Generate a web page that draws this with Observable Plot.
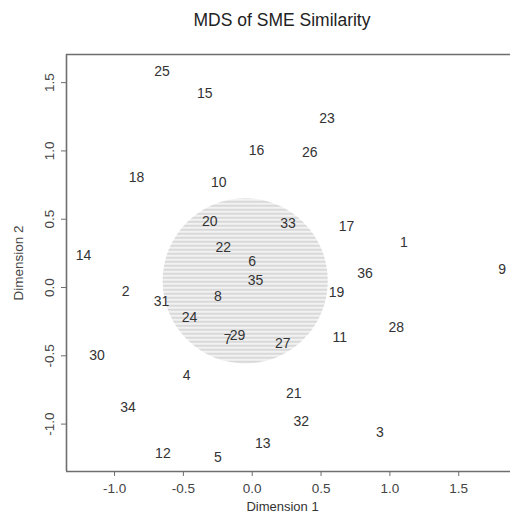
<!DOCTYPE html>
<html><head><meta charset="utf-8">
<script src="https://cdn.jsdelivr.net/npm/d3@7"></script>
<script src="https://cdn.jsdelivr.net/npm/@observablehq/plot@0.6"></script>
<style>
html,body{margin:0;padding:0;background:#fff;width:510px;height:519px;overflow:hidden;}
#title{height:40px;line-height:40px;padding-left:54px;width:456px;text-align:center;font-family:"Liberation Sans",Arial,sans-serif;font-size:17.5px;color:#222;}
#chart svg{display:block;}
</style></head><body>
<div id="title">MDS of SME Similarity</div>
<div id="chart"></div>
<script>
// Point labels (SME ids) and their MDS coordinates
const ids  = [1,2,3,4,5,6,7,8,9,10,11,12,13,14,15,16,17,18,19,20,21,22,23,24,25,26,27,28,29,30,31,32,33,34,35,36];
const dim1 = [1.101,-0.920,0.927,-0.477,-0.250,0.000,-0.179,-0.250,1.816,-0.243,0.636,-0.649,0.077,-1.225,-0.344,0.031,0.685,-0.840,0.612,-0.308,0.302,-0.211,0.543,-0.455,-0.655,0.418,0.222,1.046,-0.107,-1.127,-0.659,0.356,0.260,-0.902,0.024,0.819];
const dim2 = [0.327,-0.026,-1.059,-0.644,-1.242,0.193,-0.384,-0.066,0.135,0.772,-0.364,-1.213,-1.140,0.234,1.418,1.003,0.447,0.805,-0.037,0.483,-0.776,0.291,1.235,-0.216,1.585,0.985,-0.412,-0.295,-0.351,-0.498,-0.102,-0.979,0.466,-0.878,0.048,0.099];
const xTicks = [-1, -0.5, 0, 0.5, 1, 1.5];
const yTicks = [-1, -0.5, 0, 0.5, 1, 1.5];
const xDomain = [-1.349, 1.876];
const yDomain = [-1.347, 1.706];
const circleCenter = [{x: -0.051, y: 0.049}];
const circleRadius = 0.6; // in data units

const W = 510, H = 479, mL = 66, mR = 0, mT = 14, mB = 48;
const points = ids.map((id, i) => ({id, x: dim1[i], y: dim2[i]}));
const pxPerUnit = (W - mL - mR) / (xDomain[1] - xDomain[0]);
const fmt = d => d.toFixed(1);
const axisColor = "#6e6e6e";
const font = "'Liberation Sans', Arial, sans-serif";

const svg = Plot.plot({
  width: W, height: H,
  marginLeft: mL, marginRight: mR, marginTop: mT, marginBottom: mB,
  style: {fontFamily: font, fontSize: "14px", color: "#333", background: "white", overflow: "visible"},
  x: {domain: xDomain},
  y: {domain: yDomain},
  marks: [
    Plot.dot(circleCenter, {x: "x", y: "y", r: circleRadius * pxPerUnit, fill: "url(#stripes)", stroke: "none"}),
    Plot.ruleY([yDomain[1], yDomain[0]], {stroke: axisColor, strokeWidth: 1.6}),
    Plot.ruleX([xDomain[0]], {stroke: axisColor, strokeWidth: 1.6}),
    Plot.axisX({ticks: xTicks, tickFormat: fmt, tickSize: 5, tickPadding: 7, stroke: axisColor, fill: "#444", fontSize: 13.5, label: null}),
    Plot.axisY({ticks: yTicks, tickFormat: fmt, tickSize: 5, tickPadding: 8, tickRotate: -90, stroke: axisColor, fill: "#444", fontSize: 13.5,
      label: "Dimension 2", labelAnchor: "center", labelOffset: 53, labelArrow: "none"}),
    Plot.text(["Dimension 1"], {frameAnchor: "bottom", text: d => d, dx: -6, dy: 39, fill: "#333", fontSize: 13}),
    Plot.text(points, {x: "x", y: "y", text: "id", fill: "#333", fontSize: 14})
  ]
});

const defs = document.createElementNS("http://www.w3.org/2000/svg", "defs");
defs.innerHTML = '<pattern id="stripes" patternUnits="userSpaceOnUse" x="0" y="0" width="10" height="4">' +
  '<rect width="10" height="4" fill="#d9d9d9"/><rect y="2.7" width="10" height="1.3" fill="#ffffff"/></pattern>';
svg.insertBefore(defs, svg.firstChild);
document.getElementById("chart").appendChild(svg);
</script>
</body></html>
